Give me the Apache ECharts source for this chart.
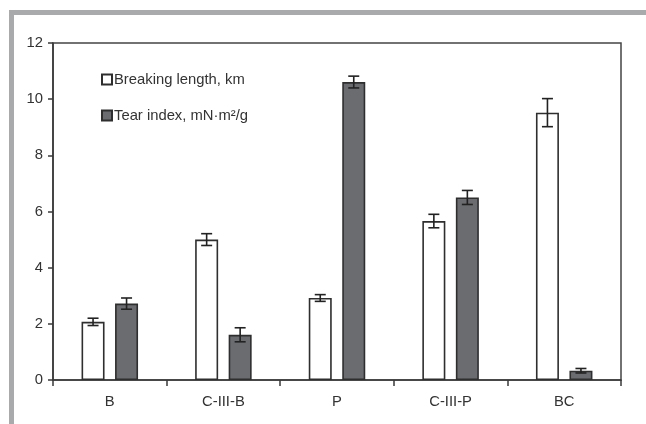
<!DOCTYPE html>
<html>
<head>
<meta charset="utf-8">
<script src="https://cdn.jsdelivr.net/npm/echarts@6/dist/echarts.min.js"></script>
<style>
html,body{margin:0;padding:0;background:#fff;}
#chart{width:646px;height:424px;}
</style>
</head>
<body>
<div id="chart"></div>
<script>
var categories = ['B', 'C-III-B', 'P', 'C-III-P', 'BC'];
var breakingLength = [2.07, 5.0, 2.92, 5.66, 9.52];
var breakingLengthErr = [0.13, 0.21, 0.12, 0.24, 0.5];
var tearIndex = [2.72, 1.61, 10.61, 6.5, 0.33];
var tearIndexErr = [0.2, 0.25, 0.21, 0.25, 0.08];
var yTicks = [0, 2, 4, 6, 8, 10, 12];

var BAR_W = 23, GAP = 10.5;
var FONT = '"Liberation Sans", Arial, sans-serif';

function errData(vals, errs) {
  return vals.map(function (v, i) { return [i, v, errs[i]]; });
}
function errRender(sign) {
  return function (params, api) {
    var i = api.value(0), v = api.value(1), e = api.value(2);
    var top = api.coord([i, v + e]);
    var bot = api.coord([i, v - e]);
    var x = top[0] + sign * (BAR_W + GAP) / 2;
    var cap = 5.5;
    var st = { stroke: '#222', lineWidth: 1.6 };
    return {
      type: 'group',
      children: [
        { type: 'line', shape: { x1: x, y1: top[1], x2: x, y2: bot[1] }, style: st },
        { type: 'line', shape: { x1: x - cap, y1: top[1], x2: x + cap, y2: top[1] }, style: st },
        { type: 'line', shape: { x1: x - cap, y1: bot[1], x2: x + cap, y2: bot[1] }, style: st }
      ]
    };
  };
}

var chart = echarts.init(document.getElementById('chart'));
chart.setOption({
  animation: false,
  backgroundColor: '#fff',
  graphic: [
    { type: 'rect', shape: { x: 9, y: 10, width: 637, height: 5 }, style: { fill: '#a9aaac' } },
    { type: 'rect', shape: { x: 9, y: 10, width: 5, height: 414 }, style: { fill: '#a9aaac' } }
  ],
  grid: {
    left: 53, right: 25, top: 43, bottom: 44,
    show: true, backgroundColor: '#fff', borderColor: '#444', borderWidth: 1.5
  },
  legend: {
    orient: 'vertical',
    left: 96, top: 67,
    itemWidth: 10, itemHeight: 10, itemGap: 21,
    icon: 'rect',
    textStyle: { fontFamily: FONT, fontSize: 14.8, color: '#333', padding: [0, 0, 0, -3] },
    data: ['Breaking length, km', 'Tear index, mN·m²/g']
  },
  xAxis: {
    type: 'category',
    data: categories,
    axisLine: { lineStyle: { color: '#3a3a3a', width: 1.6 } },
    axisTick: { show: true, length: 6, lineStyle: { color: '#3a3a3a', width: 1.5 } },
    axisLabel: { fontFamily: FONT, fontSize: 14.8, color: '#333', margin: 14 },
    splitLine: { show: false }
  },
  yAxis: {
    type: 'value',
    min: 0, max: 12, interval: 2,
    axisLine: { show: true, lineStyle: { color: '#3a3a3a', width: 1.6 } },
    axisTick: { show: true, length: 5, lineStyle: { color: '#3a3a3a', width: 1.5 } },
    axisLabel: {
      fontFamily: FONT, fontSize: 14.8, color: '#333', margin: 10,
      formatter: function (v) { return yTicks.indexOf(v) >= 0 ? String(v) : ''; }
    },
    splitLine: { show: false }
  },
  series: [
    {
      name: 'Breaking length, km',
      type: 'bar',
      data: breakingLength,
      barWidth: BAR_W,
      barGap: (GAP / BAR_W * 100).toFixed(1) + '%',
      itemStyle: { color: '#ffffff', borderColor: '#2e2e2e', borderWidth: 1.6 }
    },
    {
      name: 'Tear index, mN·m²/g',
      type: 'bar',
      data: tearIndex,
      barWidth: BAR_W,
      itemStyle: { color: '#6b6c70', borderColor: '#2e2e2e', borderWidth: 1.6 }
    },
    {
      type: 'custom',
      renderItem: errRender(-1),
      data: errData(breakingLength, breakingLengthErr),
      z: 10, silent: true
    },
    {
      type: 'custom',
      renderItem: errRender(1),
      data: errData(tearIndex, tearIndexErr),
      z: 10, silent: true
    }
  ]
});
</script>
</body>
</html>
